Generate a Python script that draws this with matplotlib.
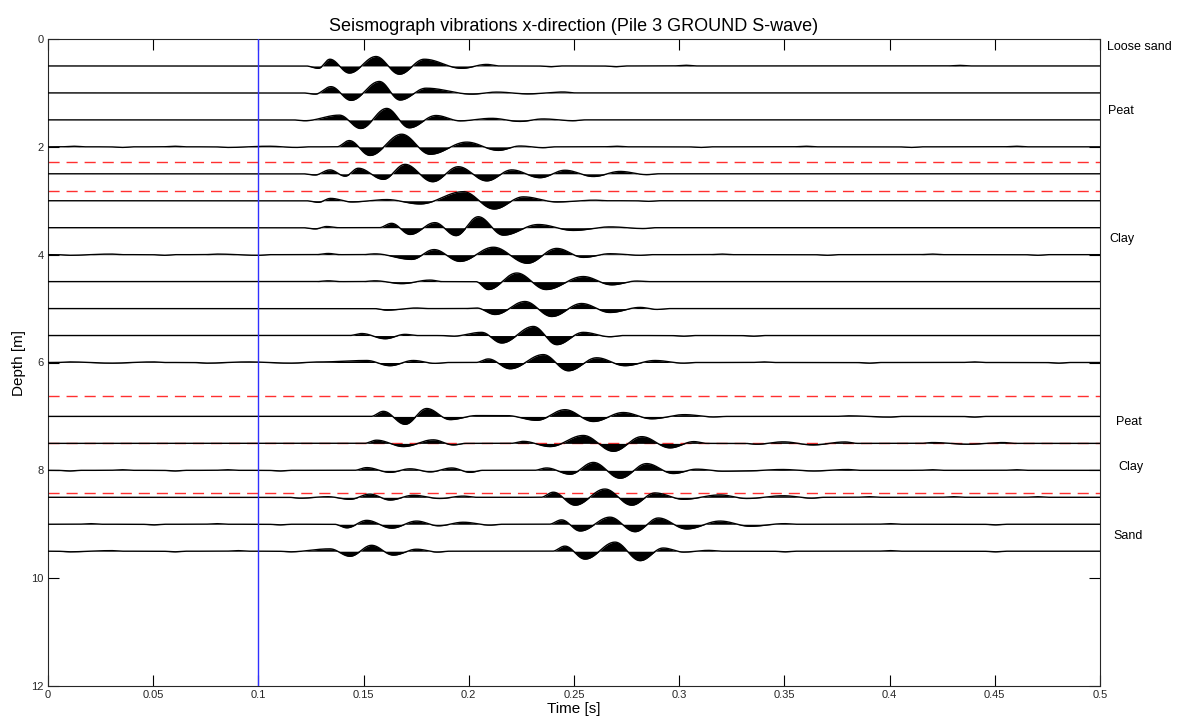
import numpy as np
import matplotlib
matplotlib.use("Agg")
import matplotlib.pyplot as plt

plt.rcParams['font.family'] = ['Liberation Sans', 'DejaVu Sans']

# ---------------- data ----------------
# each trace: list of (time [s], amplitude [arbitrary units]) extrema
TR_0_5 = [(0.1285, -2), (0.1340, 5.7), (0.1432, -6), (0.1559, 8), (0.1670, -7), (0.1788, 5.7),
          (0.1966, -2), (0.2085, 1.3), (0.2386, -0.6), (0.2695, -0.6), (0.3028, 0.6), (0.4330, 0.5)]
TR_1_0 = [(0.1270, -1), (0.1345, 5.3), (0.1440, -6.3), (0.1575, 9.7), (0.1673, -6), (0.1797, 4),
          (0.2014, -1), (0.2133, 0.7), (0.2281, -0.8), (0.2448, 0.8)]
TR_1_5 = [(0.1221, -0.7), (0.1385, 4), (0.1486, -7.3), (0.1610, 9.7), (0.1717, -6.7), (0.1844, 3.7),
          (0.1958, -0.8), (0.2109, 1.3), (0.2243, -1.3), (0.2353, 0.8), (0.2495, -0.7)]
TR_2_0 = [(0.012, 0.5), (0.035, -0.5), (0.060, 0.5), (0.085, -0.5), (0.105, 0.5), (0.118, -0.5),
          (0.1432, 5.3), (0.1530, -7.3), (0.1681, 10.7), (0.1816, -6.3), (0.1990, 4), (0.2140, -3),
          (0.2243, 0.7), (0.2353, -0.7), (0.270, 0.5), (0.310, -0.5), (0.360, 0.5), (0.410, -0.5), (0.460, 0.5)]
TR_2_5 = [(0.1269, -1), (0.1340, 3.3), (0.1412, -2), (0.1475, 4.7), (0.1594, -4.7), (0.1697, 8),
          (0.1828, -6.7), (0.1950, 6), (0.2085, -6), (0.2204, 3.3), (0.2338, -3.3), (0.2457, 3),
          (0.2592, -2.3), (0.2719, 2), (0.2845, -0.7)]
TR_3_0 = [(0.1285, -1.3), (0.1343, 2), (0.1443, -1), (0.1610, 1), (0.1768, -2.7), (0.1974, 7.7),
          (0.2120, -7), (0.2259, 3.3), (0.2418, -1), (0.2600, 0.5), (0.2850, -0.5)]
TR_3_5 = [(0.1270, -1), (0.1324, 1), (0.1633, 3.7), (0.1721, -5.7), (0.1839, 4.3), (0.1939, -6.7),
          (0.2045, 9.3), (0.2164, -6.3), (0.2330, 2.7), (0.2497, -2.3), (0.2672, 0.7), (0.2830, -0.7)]
TR_4_0 = [(0.010, -0.5), (0.030, 0.5), (0.055, -0.5), (0.080, 0.5), (0.100, -0.5),
          (0.1332, 1), (0.1554, 0.7), (0.1728, -4), (0.1835, 4.3), (0.1958, -5.7), (0.2117, 6.3),
          (0.2278, -7.3), (0.2418, 5.3), (0.2544, -2.3), (0.2671, 0.8), (0.2814, -0.5),
          (0.320, 0.5), (0.370, -0.5), (0.420, 0.5), (0.470, -0.5)]
TR_4_5 = [(0.1332, 0.7), (0.1554, 0.7), (0.1681, -1.7), (0.1816, 1.3), (0.2093, -6.7), (0.2228, 7.3),
          (0.2367, -6.7), (0.2544, 4.3), (0.2679, -2.7), (0.2798, 0.5)]
TR_5_0 = [(0.1610, -1.3), (0.1750, 0.5), (0.2037, 0.5), (0.2125, -5), (0.2267, 6), (0.2394, -6.7),
          (0.2536, 4.3), (0.2671, -3.3), (0.2814, 1), (0.2893, -0.7)]
TR_5_5 = [(0.1491, 1.7), (0.1602, -2.7), (0.1697, 1), (0.1926, -0.5), (0.2061, 2.7), (0.2156, -6.3),
          (0.2307, 7.7), (0.2418, -7.7), (0.2544, 2.7), (0.2671, -1), (0.3018, -0.5), (0.3350, -0.5)]
TR_6_0 = [(0.010, 0.5), (0.030, -0.5), (0.050, 0.5), (0.075, -0.5), (0.095, 0.5), (0.115, -0.5), (0.130, 0.5),
          (0.1515, 1.7), (0.1625, -2.7), (0.1736, 1.7), (0.1839, -0.7), (0.2093, 3), (0.2196, -5.3),
          (0.2354, 6.7), (0.2473, -7), (0.2608, 4), (0.2742, -2.7), (0.2885, 1.7), (0.3020, -0.5),
          (0.340, 0.5), (0.390, -0.5), (0.440, 0.5), (0.480, -0.5)]
TR_7_0 = [(0.1594, 4.3), (0.1697, -6.7), (0.1800, 6.7), (0.1911, -2.7), (0.2037, 0.7), (0.2180, 0.7),
          (0.2323, -3.3), (0.2457, 5.7), (0.2592, -4.3), (0.2734, 3.3), (0.2869, -2), (0.3025, 1.5),
          (0.3162, -0.4), (0.3800, 0.5), (0.4000, -0.5), (0.4400, -0.5)]
TR_7_5 = [(0.1562, 2.7), (0.1689, -2.7), (0.1831, 3), (0.1926, -1.3), (0.2259, 1.7), (0.2386, -2.7),
          (0.2544, 6.7), (0.2687, -6.7), (0.2822, 5.7), (0.2956, -3.8), (0.3070, 1.5), (0.3369, -0.7),
          (0.3494, 1.3), (0.3635, -1.3), (0.3788, 1.2), (0.4205, 0.7), (0.4372, -0.7), (0.4539, 0.7)]
TR_8_0 = [(0.010, -0.5), (0.035, 0.5), (0.060, -0.5), (0.085, 0.5), (0.110, -0.5),
          (0.1515, 2.3), (0.1625, -1.7), (0.1721, 1.3), (0.1816, -1.3), (0.1919, 2), (0.2006, -1.7),
          (0.2370, 2), (0.2481, -3.3), (0.2592, 6.7), (0.2719, -6.7), (0.2845, 5.7), (0.2972, -2.7),
          (0.3083, 1), (0.3208, -0.7), (0.3320, -0.5), (0.3490, 0.7), (0.3640, -0.5), (0.3800, 0.7),
          (0.4200, 0.5), (0.4600, 0.5)]
TR_8_5 = [(0.1200, -0.7), (0.1330, 0.5), (0.1435, -1.7), (0.1530, 2.7), (0.1625, -2.3), (0.1736, 1.7),
          (0.1863, -1), (0.1974, 1), (0.2402, 4.3), (0.2505, -6.7), (0.2647, 7), (0.2774, -6.7),
          (0.2885, 3.7), (0.3020, -1.7), (0.3194, 2), (0.3321, -1), (0.3495, 1.3), (0.3630, -0.7),
          (0.3900, 0.5), (0.4300, 0.5), (0.4700, 0.5)]
TR_9_0 = [(0.020, 0.5), (0.050, -0.5), (0.080, 0.5), (0.110, -0.5),
          (0.1420, -3), (0.1515, 3.3), (0.1633, -3.3), (0.1752, 2.7), (0.1855, -1.3), (0.1974, 1.7),
          (0.2100, -0.7), (0.2441, 3.7), (0.2529, -5.7), (0.2671, 6), (0.2790, -6.3), (0.2901, 5.3),
          (0.3035, -4), (0.3194, 2.7), (0.3337, -1.7), (0.3500, 0.5), (0.4000, 0.5), (0.4500, -0.5)]
TR_9_5 = [(0.010, -0.5), (0.030, 0.5), (0.060, -0.5), (0.090, 0.5), (0.115, -0.5),
          (0.1340, 2), (0.1435, -4.3), (0.1538, 5), (0.1641, -3.3), (0.1752, 1.7), (0.1850, -0.7),
          (0.2457, 4.3), (0.2552, -6.7), (0.2695, 7.7), (0.2814, -8), (0.2924, 2.7), (0.3020, -0.7),
          (0.3140, 0.7), (0.3500, -0.5), (0.4000, 0.5), (0.4500, -0.5)]

DEPTHS = [0.5, 1.0, 1.5, 2.0, 2.5, 3.0, 3.5, 4.0, 4.5, 5.0, 5.5, 6.0, 7.0, 7.5, 8.0, 8.5, 9.0, 9.5]
TRACES = [TR_0_5, TR_1_0, TR_1_5, TR_2_0, TR_2_5, TR_3_0, TR_3_5, TR_4_0, TR_4_5, TR_5_0,
          TR_5_5, TR_6_0, TR_7_0, TR_7_5, TR_8_0, TR_8_5, TR_9_0, TR_9_5]

LAYER_BOUNDS = [2.29, 2.81, 6.62, 7.5, 8.42]
SOURCE_TIME = 0.1
LAYER_NAMES = ["Loose sand", "Peat", "Clay", "Peat", "Clay", "Sand"]
LAYER_LABEL_DEPTH = [0.15, 1.34, 3.71, 7.10, 7.94, 9.22]
LAYER_LABEL_X = [1.0067, 1.0076, 1.0085, 1.0152, 1.0171, 1.0124]

XTICKS = [0, 0.05, 0.1, 0.15, 0.2, 0.25, 0.3, 0.35, 0.4, 0.45, 0.5]
XTICKLABELS = ["0", "0.05", "0.1", "0.15", "0.2", "0.25", "0.3", "0.35", "0.4", "0.45", "0.5"]
YTICKS = [0, 2, 4, 6, 8, 10, 12]

GAIN = 1.18 / 53.9  # amplitude unit -> depth axis


def build_trace(extrema, t):
    pts = [(extrema[0][0] - 0.006, 0.0)]
    for i, (ti, ai) in enumerate(extrema):
        if i > 0:
            tp = extrema[i - 1][0]
            if ti - tp > 0.022:
                pts.append((tp + 0.006, 0.0))
                pts.append((ti - 0.006, 0.0))
        pts.append((ti, ai))
    pts.append((extrema[-1][0] + 0.006, 0.0))
    y = np.zeros_like(t)
    for (t0, a0), (t1, a1) in zip(pts[:-1], pts[1:]):
        m = (t >= t0) & (t <= t1)
        u = (t[m] - t0) / (t1 - t0)
        y[m] = a0 + (a1 - a0) * (1 - np.cos(np.pi * u)) / 2
    return y


fig = plt.figure(figsize=(11.77, 7.18), dpi=100)
ax = fig.add_axes([48 / 1177, 1 - 686 / 718, (1100 - 48) / 1177, (686 - 39) / 718])

t = np.linspace(0, 0.5, 6001)
for d in LAYER_BOUNDS:
    ax.axhline(d, color='#ff3030', lw=1.0, dashes=(8, 5), zorder=1)

for d, ex in zip(DEPTHS, TRACES):
    amp = build_trace(ex, t)
    yv = d - amp * GAIN
    ax.fill_between(t, d, yv, color='black', lw=0, zorder=3)
    ax.plot(t, yv, color='black', lw=1.0, zorder=4)

ax.axvline(SOURCE_TIME, color='#3030ff', lw=1.0, zorder=5)

ax.set_xlim(0, 0.5)
ax.set_ylim(12, 0)
ax.set_xticks(XTICKS)
ax.set_xticklabels(XTICKLABELS)
ax.set_yticks(YTICKS)
ax.tick_params(direction='in', length=8, width=0.8, top=True, right=True,
               labelsize=8, labelcolor='#262626', pad=3)
for s in ax.spines.values():
    s.set_linewidth(0.8)
    s.set_color('#262626')

ax.set_title("Seismograph vibrations x-direction (Pile 3 GROUND S-wave)", fontsize=13, pad=6)
ax.set_xlabel("Time [s]", fontsize=11, labelpad=1)
ax.set_ylabel("Depth [m]", fontsize=11, labelpad=4)

for name, dep, xx in zip(LAYER_NAMES, LAYER_LABEL_DEPTH, LAYER_LABEL_X):
    ax.text(xx, dep, name, transform=ax.get_yaxis_transform(), fontsize=9,
            ha='left', va='center', clip_on=False)

fig.savefig("out.png", dpi=100)
